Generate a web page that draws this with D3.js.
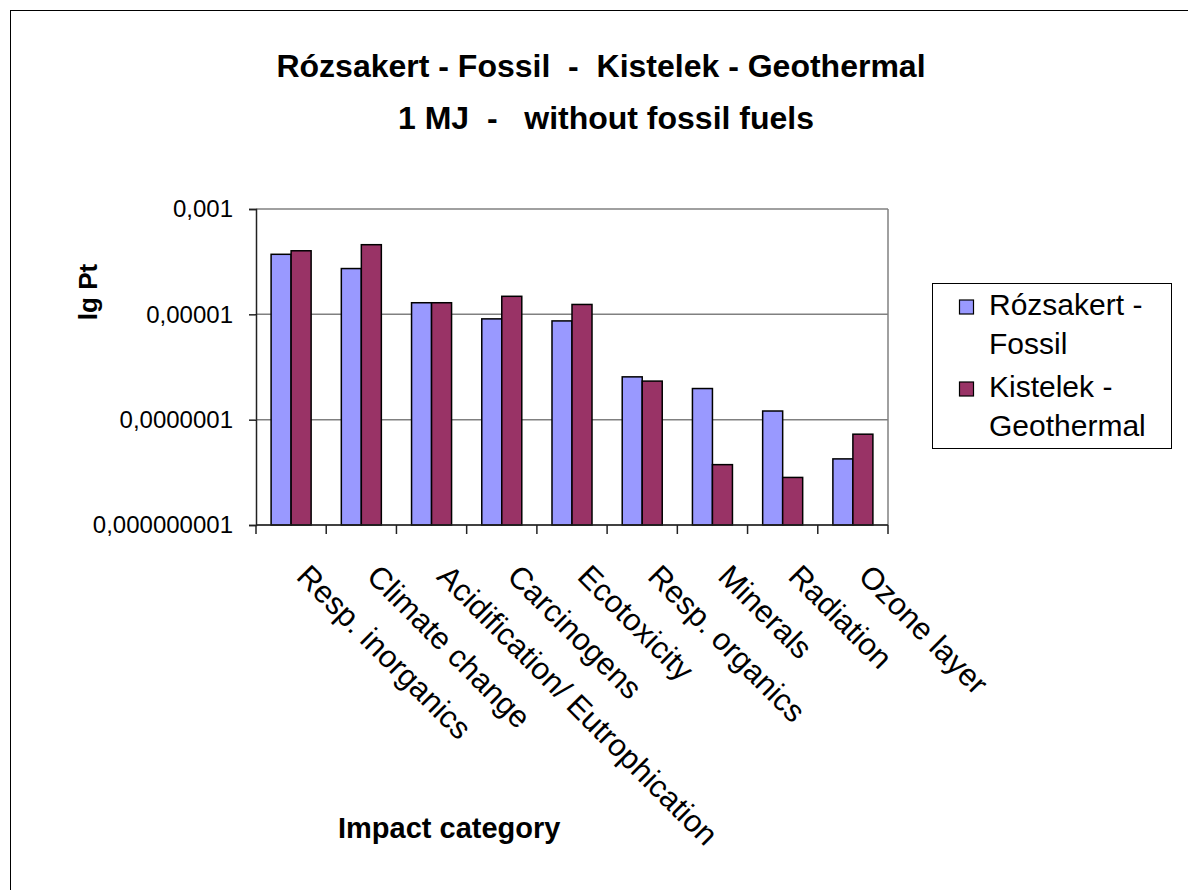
<!DOCTYPE html>
<html>
<head>
<meta charset="utf-8">
<script src="https://cdn.jsdelivr.net/npm/d3@7"></script>
<style>
  body { margin: 0; background: #fff; }
  svg text { font-family: "Liberation Sans", Arial, sans-serif; fill: #000; }
</style>
</head>
<body>
<svg id="chart"></svg>
<script>
// data
const categories = ['Resp. inorganics', 'Climate change', 'Acidification/ Eutrophication', 'Carcinogens',
  'Ecotoxicity', 'Resp. organics', 'Minerals', 'Radiation', 'Ozone layer'];
const seriesNames = ['Rózsakert - Fossil', 'Kistelek - Geothermal'];
const fossil = [1.38e-4, 7.4e-5, 1.66e-5, 8.2e-6, 7.5e-6, 6.5e-7, 3.9e-7, 1.46e-7, 1.8e-8];
const geothermal = [1.61e-4, 2.1e-4, 1.66e-5, 2.2e-5, 1.54e-5, 5.4e-7, 1.4e-8, 8.0e-9, 5.3e-8];
const yTickValues = [1e-9, 1e-7, 1e-5, 1e-3];
const yTickLabels = ['0,000000001', '0,0000001', '0,00001', '0,001'];
const colors = ['#9999ff', '#993366'];

const w = 1188, h = 890;
const plotLeft = 256, plotRight = 888, plotTop = 209, plotBottom = 525;

const svg = d3.select('#chart').attr('width', w).attr('height', h);

// outer chart frame (runs off the page on the right and bottom)
svg.append('rect')
  .attr('x', 10.5).attr('y', 10.5)
  .attr('width', w + 20).attr('height', h + 20)
  .attr('fill', 'none').attr('stroke', '#000').attr('stroke-width', 1);

// titles
svg.append('text').attr('x', 601).attr('y', 77)
  .attr('text-anchor', 'middle').style('font-size', '32px').style('font-weight', 'bold')
  .style('white-space', 'pre')
  .text('Rózsakert - Fossil  -  Kistelek - Geothermal');
svg.append('text').attr('x', 606).attr('y', 129)
  .attr('text-anchor', 'middle').style('font-size', '32px').style('font-weight', 'bold')
  .style('white-space', 'pre')
  .text('1 MJ  -   without fossil fuels');

// scales
const x = d3.scaleBand().domain(categories).range([plotLeft, plotRight]).padding(0);
const x1 = d3.scaleBand().domain(seriesNames).range([0, x.bandwidth()])
  .paddingInner(0).paddingOuter(0.755);
const y = d3.scaleLog().domain([1e-9, 1e-3]).range([plotBottom, plotTop]);

// gridlines
svg.append('g').selectAll('line')
  .data(yTickValues)
  .join('line')
  .attr('x1', plotLeft).attr('x2', plotRight)
  .attr('y1', d => y(d)).attr('y2', d => y(d))
  .attr('stroke', '#808080').attr('stroke-width', 1.5);
svg.append('line')
  .attr('x1', plotRight).attr('x2', plotRight).attr('y1', plotTop).attr('y2', plotBottom)
  .attr('stroke', '#808080').attr('stroke-width', 1.5);

// bars
const rows = categories.map((c, i) => ({ cat: c, vals: [fossil[i], geothermal[i]] }));
svg.append('g').selectAll('g')
  .data(rows)
  .join('g')
  .attr('transform', d => 'translate(' + x(d.cat) + ',0)')
  .selectAll('rect')
  .data(d => d.vals.map((v, k) => ({ name: seriesNames[k], v: v, k: k })))
  .join('rect')
  .attr('x', d => x1(d.name))
  .attr('width', x1.bandwidth())
  .attr('y', d => y(d.v))
  .attr('height', d => plotBottom - y(d.v))
  .attr('fill', d => colors[d.k])
  .attr('stroke', '#000').attr('stroke-width', 1.5);

// y axis
const yAxis = d3.axisLeft(y)
  .tickValues(yTickValues)
  .tickFormat((d, i) => yTickLabels[i])
  .tickSize(7).tickPadding(16);
const gy = svg.append('g').attr('transform', 'translate(' + plotLeft + ',0)').call(yAxis);
gy.select('.domain').attr('stroke', '#222').attr('stroke-width', 1.5);
gy.selectAll('.tick line').attr('stroke', '#222').attr('stroke-width', 1.5);
gy.selectAll('.tick text').style('font-size', '24px')
  .style('font-family', '"Liberation Sans", Arial, sans-serif');

// x axis line and boundary ticks
svg.append('line')
  .attr('x1', plotLeft).attr('x2', plotRight).attr('y1', plotBottom).attr('y2', plotBottom)
  .attr('stroke', '#222').attr('stroke-width', 1.5);
const bounds = categories.map(c => x(c)).concat([plotRight]);
svg.append('g').selectAll('line')
  .data(bounds)
  .join('line')
  .attr('x1', d => d).attr('x2', d => d)
  .attr('y1', plotBottom).attr('y2', plotBottom + 9)
  .attr('stroke', '#222').attr('stroke-width', 1.5);

// rotated category labels
svg.append('g').selectAll('text')
  .data(categories)
  .join('text')
  .attr('transform', d => 'translate(' + (x(d) + x.bandwidth() / 2 + 4) + ',' + (plotBottom + 53) + ') rotate(45)')
  .attr('text-anchor', 'start')
  .style('font-size', '31px')
  .text(d => d);

// axis titles
svg.append('text').attr('x', 338).attr('y', 838)
  .style('font-size', '29px').style('font-weight', 'bold')
  .text('Impact category');
svg.append('text')
  .attr('transform', 'translate(97,292) rotate(-90)')
  .attr('text-anchor', 'middle')
  .style('font-size', '26px').style('font-weight', 'bold')
  .text('lg Pt');

// legend
const legend = svg.append('g').attr('id', 'legend');
legend.append('rect')
  .attr('x', 932.5).attr('y', 283.5).attr('width', 239).attr('height', 165)
  .attr('fill', '#fff').attr('stroke', '#000').attr('stroke-width', 1);
const legendLines = [['Rózsakert -', 'Fossil'], ['Kistelek -', 'Geothermal']];
legendLines.forEach((lines, k) => {
  const y0 = 315 + k * 82;
  legend.append('rect')
    .attr('x', 959.5).attr('y', y0 - 15).attr('width', 14).attr('height', 14)
    .attr('fill', colors[k]).attr('stroke', '#000').attr('stroke-width', 1.2);
  lines.forEach((t, j) => {
    legend.append('text')
      .attr('x', 989).attr('y', y0 + j * 38.5)
      .style('font-size', '30px')
      .text(t);
  });
});
</script>
</body>
</html>
